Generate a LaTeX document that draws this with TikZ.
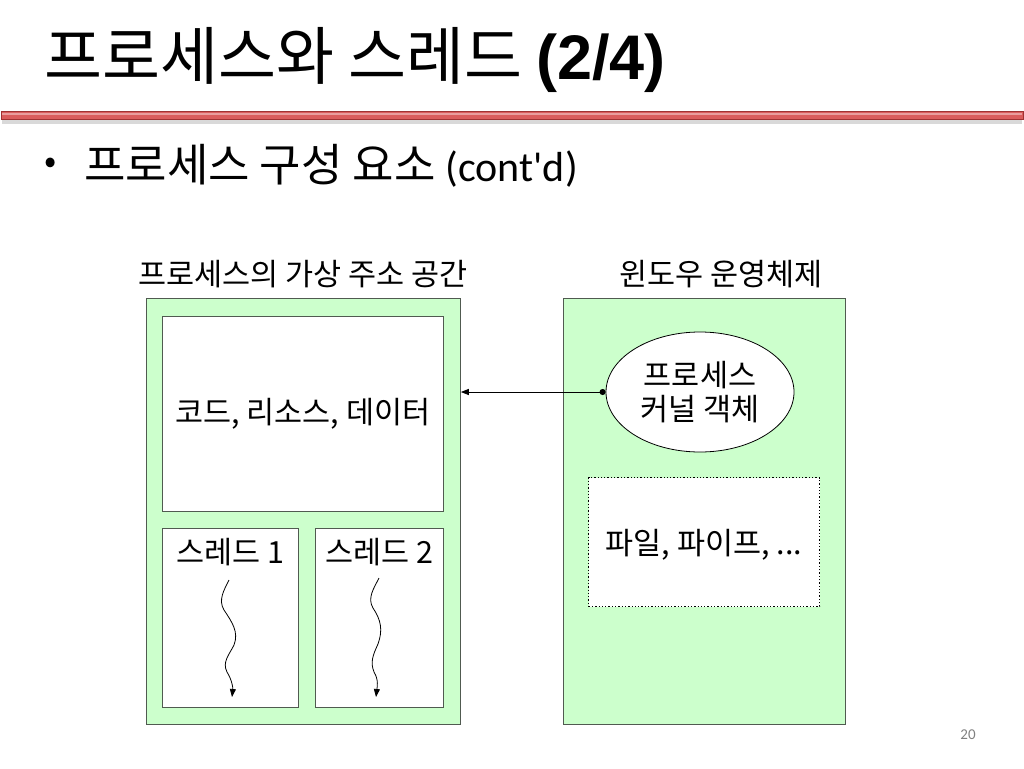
\documentclass[tikz,border=0pt]{standalone}
\usepackage{fontspec}
\setmainfont{Noto Sans CJK KR}
\newfontfamily\arialb{Liberation Sans}
\newfontfamily\calib{Carlito}
\usetikzlibrary{arrows.meta,shapes.geometric}
\definecolor{boxgreen}{RGB}{204,255,204}
\definecolor{boxedge}{RGB}{80,90,80}
\definecolor{redbar}{RGB}{218,92,92}
\definecolor{redbardark}{RGB}{160,50,50}
\tikzset{
  greenbox/.style={draw=boxedge, fill=boxgreen, line width=0.8pt, anchor=north west, inner sep=0pt},
  whitebox/.style={draw=boxedge, fill=white, line width=0.8pt, anchor=north west, inner sep=0pt},
  lbl/.style={font=\fontsize{30.5}{34}\selectfont, inner sep=0pt},
  wavy/.style={line width=0.8pt, -{Triangle[length=8pt,width=6pt]}},
}
\begin{document}
\begin{tikzpicture}[x=1pt,y=-1pt]
\useasboundingbox (0,0) rectangle (1024,768);
% title
\node[anchor=west, inner sep=0pt] (title) at (44,60) {\fontsize{63}{70}\selectfont 프로세스와 스레드 {\arialb\bfseries (2/4)}};
% red bar
\fill[black!15] (2,118) rectangle (1022,124);
\draw[redbardark, fill=redbar, line width=0.6pt] (1,111) rectangle (1023,119);
\fill[white!40!redbar] (2,112.5) rectangle (1022,114.5);
% bullet
\node[anchor=west, inner sep=0pt] (bullet) at (44,166) {\fontsize{36}{40}\selectfont •};
\node[anchor=west, inner sep=0pt] (sub) at (84,166) {\fontsize{45}{50}\selectfont 프로세스 구성 요소 {\calib\fontsize{42}{46}\selectfont (cont'd)}};
% headings
\node[lbl] (hleft) at (303,274) {프로세스의 가상 주소 공간};
\node[lbl] (hright) at (721,274) {윈도우 운영체제};
% left box
\node[greenbox, minimum width=314pt, minimum height=426pt] (left) at (146,298) {};
\node[whitebox, minimum width=281pt, minimum height=195pt] (code) at (162,316) {};
\node[lbl] (codet) at (code.center) {코드, 리소스, 데이터};
\node[whitebox, minimum width=136pt, minimum height=179pt] (t1) at (162,528) {};
\node[whitebox, minimum width=128pt, minimum height=179pt] (t2) at (315,528) {};
\node[lbl] (t1l) at (230,552) {스레드 1};
\node[lbl] (t2l) at (379,552) {스레드 2};
% wavy arrows
\coordinate (w1s) at (229,580);
\coordinate (w1e) at (232,697);
\draw[wavy] (w1s) .. controls (224,590) and (218,600) .. (224,610)
  .. controls (232,622) and (239,632) .. (234,645)
  .. controls (229,655) and (222,662) .. (227,672)
  .. controls (232,680) and (233,688) .. (w1e);
\coordinate (w2s) at (379,578);
\coordinate (w2e) at (376,697);
\draw[wavy] (w2s) .. controls (374,588) and (367,598) .. (373,608)
  .. controls (381,620) and (383,630) .. (378,644)
  .. controls (373,655) and (370,662) .. (374,672)
  .. controls (379,680) and (377,688) .. (w2e);
% right box
\node[greenbox, minimum width=282pt, minimum height=426pt] (right) at (563,298) {};
\node[ellipse, draw=black, fill=white, line width=0.8pt, minimum width=188pt, minimum height=120pt, inner sep=0pt, align=center, font=\fontsize{30.5}{34}\selectfont] (pko) at (700,392) {프로세스\\커널 객체};
\node[draw=black, fill=white, dotted, line width=1.3pt, minimum width=231pt, minimum height=129pt, anchor=north west, inner sep=0pt] (files) at (588,477) {};
\node[lbl] (filest) at (704,545) {파일, 파이프, ...};
% connector
\draw[line width=1pt, {Circle[length=6pt]}-{Triangle[length=8pt,width=6pt]}] (pko.west) -- (left.east |- pko.west);
% page number
\node[text=gray, font=\fontsize{15}{18}\selectfont\calib, inner sep=0pt] (pg) at (968,735) {20};
\end{tikzpicture}
\end{document}
